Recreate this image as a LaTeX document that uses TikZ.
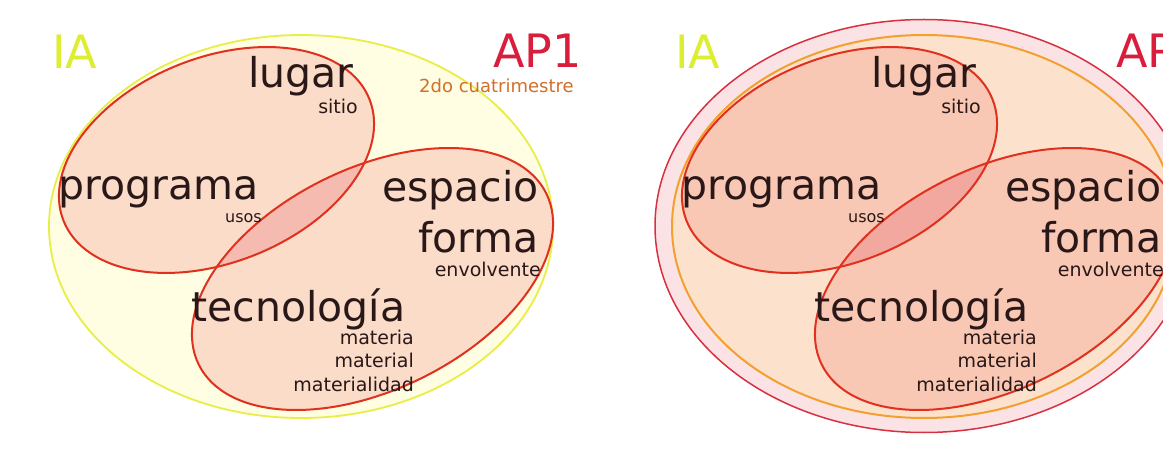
\documentclass[tikz,border=0pt]{standalone}
\usepackage{fontspec}
\setmainfont{DejaVu Sans}
\definecolor{txt}{HTML}{2A1818}
\definecolor{ylwfill}{HTML}{FFFDE2}
\definecolor{ylwline}{HTML}{E8EE48}
\definecolor{peachL}{HTML}{FADCC8}
\definecolor{interL}{HTML}{F5BBB0}
\definecolor{redline}{HTML}{E0301E}
\definecolor{pinkring}{HTML}{FBE2E4}
\definecolor{outerred}{HTML}{D83040}
\definecolor{orangeline}{HTML}{F2A030}
\definecolor{peachR}{HTML}{FCE2CC}
\definecolor{salmonR}{HTML}{F8C8B4}
\definecolor{interR}{HTML}{F2A89E}
\definecolor{iacol}{HTML}{DDEE30}
\definecolor{apcol}{HTML}{D81E3C}
\definecolor{subcol}{HTML}{D0702A}
\newcommand\vennpair[3]{%
  \fill[#1, rotate around={21.7:(216.5,304)}] (216.5,304) ellipse [x radius=164.6, y radius=102.4];
  \fill[#1, rotate around={26.2:(372.5,185)}] (372.5,185) ellipse [x radius=193.7, y radius=110.6];
  \begin{scope}
    \clip[rotate around={21.7:(216.5,304)}] (216.5,304) ellipse [x radius=164.6, y radius=102.4];
    \fill[#2, rotate around={26.2:(372.5,185)}] (372.5,185) ellipse [x radius=193.7, y radius=110.6];
  \end{scope}
  \draw[#3, line width=2, rotate around={21.7:(216.5,304)}] (216.5,304) ellipse [x radius=164.6, y radius=102.4];
  \draw[#3, line width=2, rotate around={26.2:(372.5,185)}] (372.5,185) ellipse [x radius=193.7, y radius=110.6];
}
\newcommand\vennlabels[1]{%
  \node[big, anchor=base west] (lugar#1) at (248,376) {lugar};
  \node[small, anchor=base east] (sitio#1) at (358,350) {sitio};
  \node[big, anchor=base west] (programa#1) at (58,264) {programa};
  \node[tiny, anchor=base west] (usos#1) at (225,241) {usos};
  \node[big, anchor=base east] (espacio#1) at (539,262) {espacio};
  \node[big, anchor=base east] (forma#1) at (539,211) {forma};
  \node[small, anchor=base east] (envolvente#1) at (541,187) {envolvente};
  \node[big, anchor=base west] (tecnologia#1) at (191,142) {tecnología};
  \node[small, anchor=base east] (materia#1) at (414,119) {materia};
  \node[small, anchor=base east] (material#1) at (414,96) {material};
  \node[small, anchor=base east] (materialidad#1) at (414,72) {materialidad};
  \node[title, text=iacol, anchor=base west] (ia#1) at (52,395) {IA};
}
\begin{document}
\begin{tikzpicture}[x=1pt,y=1pt,
  big/.style={font=\fontsize{41}{41}\selectfont, text=txt, inner sep=0pt},
  small/.style={font=\fontsize{19}{19}\selectfont, text=txt, inner sep=0pt},
  tiny/.style={font=\fontsize{16}{16}\selectfont, text=txt, inner sep=0pt},
  title/.style={font=\fontsize{46}{46}\selectfont, inner sep=0pt}]
\useasboundingbox (0,0) rectangle (1163,464);
\clip (0,0) rectangle (1163,464);
\fill[white] (0,0) rectangle (1163,464);
% left panel
\filldraw[fill=ylwfill, draw=ylwline, line width=1.8] (301,237.5) ellipse [x radius=252, y radius=191.5];
\vennpair{peachL}{interL}{redline}
\vennlabels{L}
\node[title, text=apcol, anchor=base west] (apL) at (493,396) {AP1};
\node[font=\fontsize{18}{18}\selectfont, text=subcol, inner sep=0pt, anchor=base west] (subL) at (419,371) {2do cuatrimestre};
% right panel
\begin{scope}[xshift=623pt]
\filldraw[fill=pinkring, draw=outerred, line width=1.5] (301,238) ellipse [x radius=269, y radius=206.5];
\filldraw[fill=peachR, draw=orangeline, line width=2] (301,237.5) ellipse [x radius=252, y radius=191.5];
\vennpair{salmonR}{interR}{redline}
\vennlabels{R}
\node[title, text=apcol, anchor=base west] (apR) at (493,396) {AP};
\end{scope}
\end{tikzpicture}
\end{document}
